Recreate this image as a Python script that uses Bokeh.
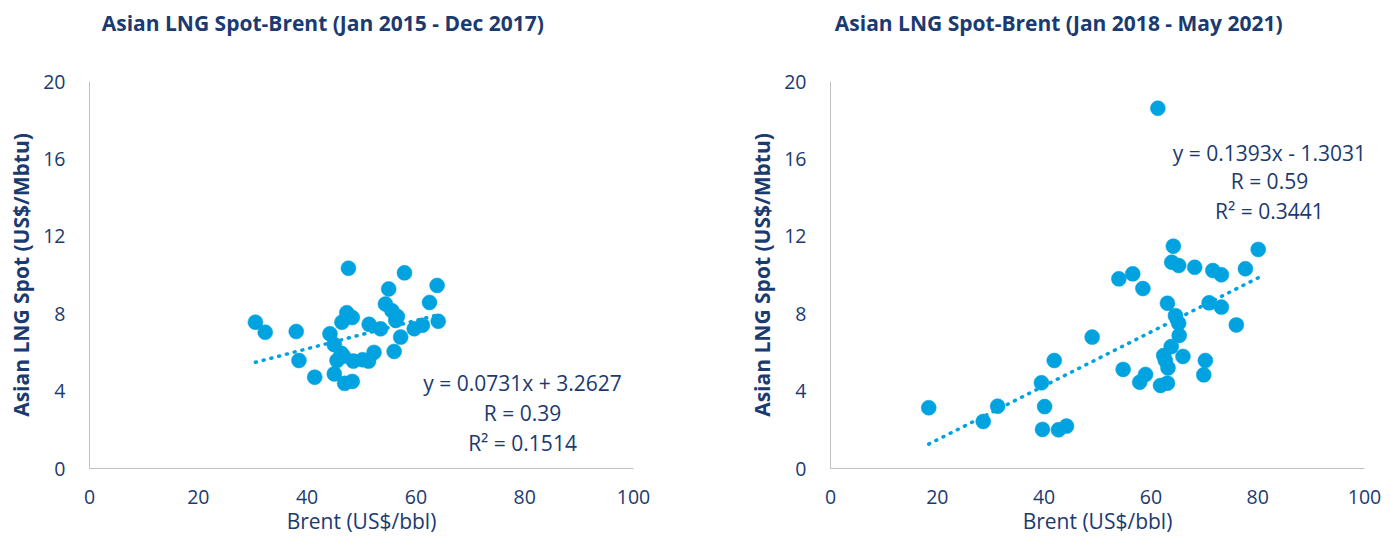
from bokeh.plotting import figure
from bokeh.layouts import row, column
from bokeh.models import Range1d, FixedTicker, ColumnDataSource
from bokeh.core.properties import value
from bokeh.embed import file_html
from bokeh.resources import INLINE

# ---- data ----
left_brent = [30.5, 32.3, 38.0, 38.5, 41.4, 47.6, 44.2, 45.0, 46.4, 47.3, 48.3, 45.0,
              46.9, 48.3, 45.5, 46.3, 48.5, 50.2, 51.3, 52.3, 51.4, 53.5, 54.4, 55.0,
              55.6, 56.6, 56.3, 56.0, 57.2, 57.9, 59.7, 61.2, 62.5, 63.9, 64.1, 46.7]
left_lng = [7.56, 7.04, 7.08, 5.58, 4.72, 10.35, 6.96, 6.40, 7.56, 8.05, 7.80, 4.89,
            4.40, 4.50, 5.58, 5.95, 5.55, 5.62, 5.55, 6.00, 7.45, 7.22, 8.50, 9.28,
            8.15, 7.85, 7.65, 6.05, 6.79, 10.11, 7.22, 7.40, 8.58, 9.46, 7.61, 5.80]

right_brent = [61.3, 64.2, 80.1, 63.9, 65.2, 68.2, 71.6, 73.2, 77.7, 54.0, 56.6, 58.5,
               63.1, 64.6, 65.2, 65.3, 63.8, 62.4, 62.7, 63.2, 66.0, 70.2, 69.9, 70.9,
               73.2, 76.0, 54.8, 59.0, 57.9, 61.8, 63.1, 49.0, 41.9, 39.5, 40.1, 39.7,
               42.7, 44.2, 31.3, 28.6, 18.4]
right_lng = [18.62, 11.49, 11.32, 10.66, 10.49, 10.40, 10.23, 10.01, 10.32, 9.80, 10.06, 9.30,
             8.54, 7.90, 7.51, 6.87, 6.30, 5.84, 5.58, 5.20, 5.79, 5.58, 4.84, 8.56,
             8.34, 7.42, 5.12, 4.86, 4.46, 4.29, 4.41, 6.79, 5.58, 4.43, 3.20, 2.02,
             2.00, 2.19, 3.22, 2.43, 3.14]

titles = ["Asian LNG Spot-Brent (Jan 2015 - Dec 2017)", "Asian LNG Spot-Brent (Jan 2018 - May 2021)"]
slopes = [0.0731, 0.1393]
intercepts = [3.2627, -1.3031]
eq_texts = [["y = 0.0731x + 3.2627", "R = 0.39", "R\u00b2 = 0.1514"],
            ["y = 0.1393x - 1.3031", "R = 0.59", "R\u00b2 = 0.3441"]]
eq_x = [79.6, 82.2]
eq_y = [[4.44, 2.89, 1.34], [16.28, 14.88, 13.33]]

x_ticks = [0, 20, 40, 60, 80, 100]
y_ticks = [0, 4, 8, 12, 16, 20]
x_label = "Brent (US$/bbl)"
y_label = "Asian LNG Spot (US$/Mbtu)"

NAVY = "#1B3A70"
DOT = "#00A3E0"
FONT = "Open Sans"
W = 695
TITLE_H = 67


def make_title(i, center_x):
    # small text-only strip holding the chart title (pixel-scaled ranges)
    t = figure(width=W, height=TITLE_H, output_backend="svg", toolbar_location=None,
               x_range=Range1d(0, W), y_range=Range1d(0, TITLE_H),
               x_axis_type=None, y_axis_type=None,
               min_border_left=0, min_border_right=0, min_border_top=0, min_border_bottom=0)
    t.outline_line_color = None
    t.grid.visible = False
    t.text(x=[center_x], y=[TITLE_H - 22], text=[titles[i]], text_align="center",
           text_baseline="middle", text_color=NAVY, text_font=value(FONT),
           text_font_size="21px", text_font_style="bold")
    return t


def make(i, xs, ys, border_left, border_right):
    p = figure(width=W, height=538 - TITLE_H, output_backend="svg", toolbar_location=None,
               x_range=Range1d(0, 100), y_range=Range1d(0, 20),
               min_border_left=border_left, min_border_right=border_right,
               min_border_top=14, min_border_bottom=70)
    p.outline_line_color = None
    p.grid.visible = False

    for ax in (p.xaxis[0], p.yaxis[0]):
        ax.axis_line_color = "#BFBFBF"
        ax.axis_line_width = 1
        ax.major_tick_line_color = None
        ax.minor_tick_line_color = None
        ax.major_label_text_font = FONT
        ax.major_label_text_font_size = "19.5px"
        ax.major_label_text_color = NAVY
        ax.axis_label_text_color = NAVY
        ax.axis_label_text_font = FONT
        ax.axis_label_text_font_size = "21px"
    p.xaxis.ticker = FixedTicker(ticks=x_ticks)
    p.yaxis.ticker = FixedTicker(ticks=y_ticks)
    p.xaxis.axis_label = x_label
    p.xaxis.axis_label_text_font_style = "normal"
    p.xaxis.major_label_standoff = 15
    p.xaxis.axis_label_standoff = 0
    p.yaxis.axis_label = y_label
    p.yaxis.axis_label_text_font_style = "bold"
    p.yaxis.major_label_standoff = 18
    p.yaxis.axis_label_standoff = 5

    # linear trendline (Excel equation)
    x0, x1 = min(xs), max(xs)
    p.line([x0, x1], [slopes[i] * x0 + intercepts[i], slopes[i] * x1 + intercepts[i]],
           line_color=DOT, line_width=3.5, line_dash="1 7", line_cap="round")

    p.scatter(xs, ys, size=15, fill_color=DOT, line_color=DOT, line_width=0.5)

    src = ColumnDataSource(dict(x=[eq_x[i]] * 3, y=eq_y[i], t=eq_texts[i]))
    p.text(x="x", y="y", text="t", source=src, text_align="center", text_baseline="middle",
           text_color=NAVY, text_font=value(FONT), text_font_size="21px")
    return p


t1 = make_title(0, 298)
t2 = make_title(1, 297)
p1 = make(0, left_brent, left_lng, 89, 62)
p2 = make(1, right_brent, right_lng, 135, 26)

layout = row(column(t1, p1), column(t2, p2))
open("out.html", "w").write(file_html(layout, INLINE))
